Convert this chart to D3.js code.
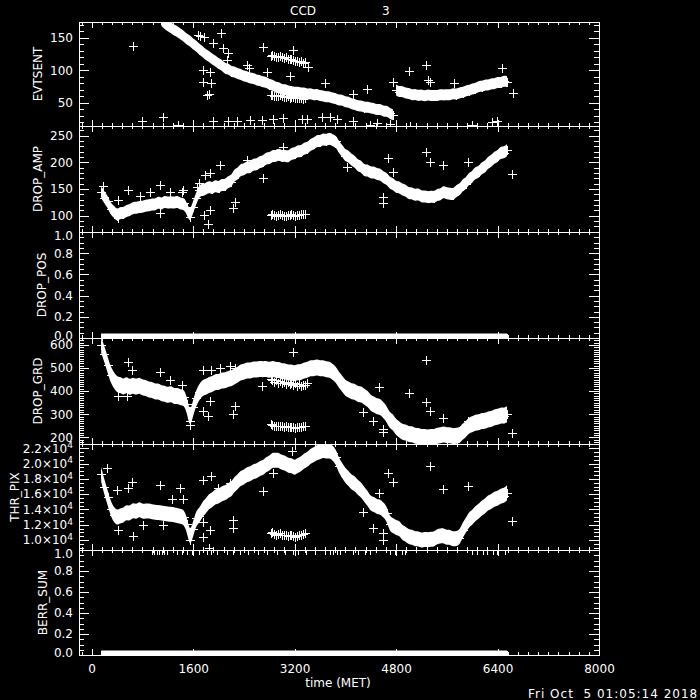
<!DOCTYPE html>
<meta charset="utf-8">
<head>
<title>CCD 3</title>
<style>
body { margin: 0; background: #000; }
svg { display: block; color: #fff; }
text { font-family: "DejaVu Sans", sans-serif; fill: #fff; }
.axis text { font-size: 12px; }
.axis line { stroke: #fff; shape-rendering: crispEdges; }
.frame { stroke: #fff; fill: none; shape-rendering: crispEdges; }
.pts { stroke: #fff; fill: none; shape-rendering: crispEdges; }
.band { fill: #fff; stroke: none; }
</style>
</head>
<body>
<script src="https://d3js.org/d3.v7.min.js"></script>
<script>

// sample times (MET) of the main track
var time = [
  150,200,250,300,350,400,450,500,550,600,
  650,700,750,800,850,900,950,1000,1050,1100,
  1150,1200,1250,1300,1350,1400,1450,1500,1550,1600,
  1650,1700,1750,1800,1850,1900,1950,2000,2050,2100,
  2150,2200,2250,2300,2350,2400,2450,2500,2550,2600,
  2650,2700,2750,2800,2850,2900,2950,3000,3050,3100,
  3150,3200,3250,3300,3350,3400,3450,3500,3550,3600,
  3650,3700,3750,3800,3850,3900,3950,4000,4050,4100,
  4150,4200,4250,4300,4350,4400,4450,4500,4550,4600,
  4650,4700,4750,4800,4850,4900,4950,5000,5050,5100,
  5150,5200,5250,5300,5350,5400,5450,5500,5550,5600,
  5650,5700,5750,5800,5850,5900,5950,6000,6050,6100,
  6150,6200,6250,6300,6350,6400,6450,6500,6550];

var evtsent = [
  null,null,null,null,null,null,null,null,null,null,
  null,null,null,null,null,null,null,null,null,177,
  172,169,166,162,160,156,153,148,146,140,
  138,132,129,124,122,117,115,110,109,103,
  103,98,98,95,94,91,91,88,88,85,
  85,82,82,78,78,74,74,70,71,68,
  68,66,67,65,66,63,65,62,64,61,
  61,59,60,57,57,54,55,51,52,48,
  48,45,46,43,44,42,42,39,41,37,
  38,34,32,70,67,68,65,65,62,64,
  61,63,60,63,61,62,61,63,62,63,
  62,65,63,66,66,69,69,72,72,76,
  75,78,77,80,79,82,81,84,83];

var dropAmp = [
  145,134,127,112,108,100,106,104,110,110,
  115,114,117,116,119,119,122,120,126,121,
  127,124,126,124,127,122,123,114,97,117,
  133,148,148,150,155,150,157,152,159,156,
  164,164,177,178,187,186,192,190,197,195,
  201,201,208,207,213,211,216,211,213,210,
  217,216,222,220,227,226,234,234,241,239,
  244,241,246,241,240,228,222,212,212,204,
  202,193,193,184,186,180,182,177,178,171,
  170,161,160,153,154,148,148,141,143,138,
  141,135,137,134,136,134,140,139,146,141,
  142,139,147,148,158,160,170,172,181,181,
  190,191,200,202,210,211,219,218,223];

var dropPos = [
  0,0,0,0,0,0,0,0,0,0, 0,0,0,0,0,0,0,0,0,0, 0,0,0,0,0,0,0,0,0,0,
  0,0,0,0,0,0,0,0,0,0, 0,0,0,0,0,0,0,0,0,0, 0,0,0,0,0,0,0,0,0,0,
  0,0,0,0,0,0,0,0,0,0, 0,0,0,0,0,0,0,0,0,0, 0,0,0,0,0,0,0,0,0,0,
  0,0,0,0,0,0,0,0,0,0, 0,0,0,0,0,0,0,0,0,0, 0,0,0,0,0,0,0,0,0,0,
  0,0,0,0,0,0,0,0,0];

var dropGrd = [
  600,560,515,470,448,428,428,416,431,414,
  428,416,428,414,415,404,408,396,401,388,
  391,381,390,376,381,371,375,345,270,330,
  372,398,415,417,428,429,441,437,448,445,
  455,453,465,469,483,482,491,487,495,492,
  497,494,498,490,499,491,493,484,487,478,
  483,475,483,480,491,491,501,497,505,497,
  501,493,495,482,473,447,433,412,408,397,
  398,385,388,375,368,347,343,332,333,317,
  303,272,268,242,235,222,223,212,215,205,
  208,199,203,198,203,200,208,207,215,207,
  211,203,208,207,225,235,253,255,265,263,
  273,269,279,277,288,287,296,292,300];

var thrPix = [
  18600,16900,15600,14100,13300,12900,13200,13200,13700,13400,
  14000,13600,14100,13700,13800,13800,13700,13600,13600,13500,
  13500,13400,13400,13300,13200,13100,13000,12100,10000,11500,
  12900,13200,14100,14400,15100,15200,15700,15700,16100,16100,
  16500,16600,17300,17600,18100,18200,18600,18600,19000,19000,
  19400,19400,19900,20000,20500,20400,20500,20100,20100,19700,
  19800,19400,19800,19900,20400,20500,21000,21100,21500,21500,
  21800,21600,21700,21400,20900,19700,19100,18400,18100,17500,
  17400,16800,16600,15900,15500,14700,14700,14300,14400,13900,
  13500,12100,11900,11600,11600,10900,10800,10400,10400,10100,
  10200,9900,10100,10000,10100,10100,10500,10500,10600,10300,
  10400,10100,10200,10300,11300,11900,12700,12900,13500,13700,
  14200,14400,14900,15000,15400,15400,15800,15800,16200];

var berrSum = [
  0,0,0,0,0,0,0,0,0,0, 0,0,0,0,0,0,0,0,0,0, 0,0,0,0,0,0,0,0,0,0,
  0,0,0,0,0,0,0,0,0,0, 0,0,0,0,0,0,0,0,0,0, 0,0,0,0,0,0,0,0,0,0,
  0,0,0,0,0,0,0,0,0,0, 0,0,0,0,0,0,0,0,0,0, 0,0,0,0,0,0,0,0,0,0,
  0,0,0,0,0,0,0,0,0,0, 0,0,0,0,0,0,0,0,0,0, 0,0,0,0,0,0,0,0,0,0,
  0,0,0,0,0,0,0,0,0];

// second, short track seen in every panel
var secTime  = [2820,2850,2880,2910,2940,2970,3000,3030,3060,3090,3120,3150,3180,3210,3240,3270,3300,3330,3360];
var evtSecHi = [123,124,122,121,121,122,121,119,120,118,118,117,116,114,115,113,114,112,113];
var evtSecLo = [62,63,61,60,60,62,61,59,59,60,58,59,59,57,57,58,58,56,57];
var ampSec   = [101,103,102,100,101,103,102,99,100,102,101,103,102,100,101,102,103,104,104];
var grdSec   = [256,253,251,250,249,251,248,246,247,244,245,246,244,241,243,244,246,247,249];
var grdSecHi = [452,446,441,448,437,444,436,441,431,439,429,437,426,433,423,430,421,428,425];
var thrSec   = [10900,11000,10800,10700,10800,10900,10700,10600,10700,10500,10600,10700,10500,10400,10500,10600,10700,10800,10900];

// scattered points [time, value]
var evtOutliers = [[651,138],[1680,155],[1708,153],[1774,151],[1913,142],[2040,157],[2071,134],
  [2150,127],[2134,116],[1756,101],[1866,97],[1756,83],[1882,81],[1819,63],[1850,64],[2702,136],
  [2449,109],[2481,104],[2765,98],[3128,92],[3175,132],[3412,105],[3680,81],[4342,72],[4121,64],
  [5005,99],[5273,109],[5305,86],[5336,83],[5715,80],[6472,104],[6646,65],[4753,83],
  [795,22],[1125,29],[1361,16],[1913,22],[2150,22],[2292,22],[2497,24],[2686,24],[2860,26],
  [3018,27],[3317,25],[3396,25],[3632,29],[3759,29],[3869,25],[4121,22],[4390,16],[4500,19],
  [4705,17],[5021,14],[6000,16],[6314,20],[6393,22]];

var ampOutliers = [[180,156],[572,148],[1077,157],[1235,144],[1440,148],[1692,161],[1787,176],
  [1866,180],[2024,195],[1771,101],[1835,84],[1866,110],[2228,114],[2260,126],[2449,204],
  [2702,171],[3018,229],[4027,191],[4674,208],[5273,220],[5336,201],[5541,195],[5935,201],
  [6629,178],[4595,124],[4595,135],[4753,182],[415,129],[762,136],[920,145],[1424,145],
  [1661,154],[1077,105],[415,96]];

var grdOutliers = [[574,528],[636,493],[1077,484],[1235,450],[1424,428],[1756,493],[1882,493],
  [2024,501],[2181,507],[2260,501],[2260,335],[2228,300],[1756,314],[1835,293],[1866,356],
  [1550,255],[415,378],[557,378],[2686,421],[3175,571],[3396,437],[5273,536],[5005,394],
  [5273,351],[5336,313],[5541,283],[5935,270],[6629,218],[4532,416],[4595,236],[4595,223],
  [4437,270],[4280,308]];

var thrOutliers = [[241,19470],[399,16580],[572,16840],[636,17630],[1077,17240],[1393,16840],
  [1266,15400],[1440,15400],[1756,17900],[1882,18400],[1992,16840],[2181,17500],[651,10570],
  [1756,10440],[1866,11300],[1756,12400],[2228,12630],[2228,11580],[2702,16360],[2860,18800],
  [3160,21620],[1850,8950],[415,11320],[809,11970],[1125,11970],[4674,18800],[4753,17540],
  [5336,19740],[5541,16710],[5935,17100],[6629,12500],[4595,10900],[4595,10000],[4437,11580],
  [4280,13720],[4532,16180]];

// times where BERR_SUM = 1
var berrHits = [951,983,1030,1062,1109,1140,1188,1345,1424,1503,1582,1692,1819,1882,1976,
  2134,2228,2339,2465,2623,2765,2922,3049,3175,3254,3380,3522,3680,3759,3806,3869,3916,
  4121,4200,4311,4390,4705,4784,4895,4942,6000,6077,6172,6235,6330,6393,6519];

// axis tick labels
var timeTicks = [0, 1600, 3200, 4800, 6400, 8000];
var evtTicks  = [50, 100, 150];
var ampTicks  = [100, 150, 200, 250];
var posTicks  = [0, 0.2, 0.4, 0.6, 0.8, 1.0];
var grdTicks  = [200, 300, 400, 500, 600];
var thrTicks  = [10000, 12000, 14000, 16000, 18000, 20000, 22000];
var berrTicks = [0, 0.2, 0.4, 0.6, 0.8, 1.0];


var width = 700, height = 700,
    left = 79, right = 599,
    edges = [22, 126, 232, 338, 444, 550, 655];

function pairs(ts, vs) { return ts.map(function(t, i) { return [t, vs[i]]; }); }

function plus(px, py) {
  var cx = Math.round(px), cy = Math.round(py);
  return "M" + (cx - 4) + "," + (cy + 0.5) + "h9M" + (cx + 0.5) + "," + (cy - 4) + "v9";
}

function minorTicks(domain, step) {
  var out = [];
  for (var v = Math.ceil(domain[0] / step) * step; v <= domain[1] + 1e-9; v += step) out.push(v);
  return out;
}

var panels = [
  {name: "EVTSENT", values: evtsent, domain: [14.6, 174.6], ticks: evtTicks, step: 10,
   fmt: d3.format("d"), lx: 42, thick: 5.5,
   extra: evtOutliers.concat(pairs(secTime, evtSecHi), pairs(secTime, evtSecLo))},
  {name: "DROP_AMP", values: dropAmp, domain: [69.4, 268.2], ticks: ampTicks, step: 10,
   fmt: d3.format("d"), lx: 42, thick: 6, extra: ampOutliers.concat(pairs(secTime, ampSec))},
  {name: "DROP_POS", values: dropPos, domain: [0, 1], ticks: posTicks, step: 0.05,
   fmt: d3.format(".1f"), lx: 46, thick: 4.5, extra: []},
  {name: "DROP_GRD", values: dropGrd, domain: [171, 630], ticks: grdTicks, step: 10,
   fmt: d3.format("d"), lx: 42, thick: 8,
   extra: grdOutliers.concat(pairs(secTime, grdSec), pairs(secTime, grdSecHi))},
  {name: "THR_PIX", values: thrPix, domain: [8690, 22563], ticks: thrTicks, step: 500,
   fmt: null, lx: 19, thick: 7.5, extra: thrOutliers.concat(pairs(secTime, thrSec))},
  {name: "BERR_SUM", values: berrSum, domain: [0, 1], ticks: berrTicks, step: 0.05,
   fmt: d3.format(".1f"), lx: 47, thick: 4.5, extra: berrHits.map(function(t) { return [t, 1]; })}
];

var x = d3.scaleLinear().domain([-200, 8000]).range([left, right]);
var xMinor = minorTicks([-200, 8000], 160);

var svg = d3.select("body").append("svg")
    .attr("width", width)
    .attr("height", height);

svg.append("rect").attr("width", width).attr("height", height).attr("fill", "#000");

panels.forEach(function(p, i) {
  var top = edges[i], bottom = edges[i + 1], last = i === panels.length - 1;
  var y = d3.scaleLinear().domain(p.domain).range([bottom, top]);
  var g = svg.append("g");

  svg.append("clipPath").attr("id", "clip" + i)
    .append("rect")
      .attr("x", left).attr("y", top)
      .attr("width", right - left + 1).attr("height", bottom - top + 1);

  var main = pairs(time, p.values);

  // the main track is sampled so densely that its symbols merge into a solid band
  var runs = [], run = [];
  main.forEach(function(d) {
    if (d[1] == null) { if (run.length) runs.push(run); run = []; return; }
    if (run.length && Math.abs(y(d[1]) - y(run[run.length - 1][1])) > 20) { runs.push(run); run = []; }
    run.push(d);
  });
  if (run.length) runs.push(run);

  var band = d3.area().curve(d3.curveBasis)
      .x(function(d) { return x(d[0]); })
      .y0(function(d) { return y(d[1]) + p.thick; })
      .y1(function(d) { return y(d[1]) - p.thick; });

  g.append("g").attr("clip-path", "url(#clip" + i + ")")
    .selectAll("path").data(runs).join("path")
      .attr("class", "band")
      .attr("d", band);

  var pts = main.concat(p.extra).filter(function(d) { return d[1] != null; });

  g.append("path")
      .attr("class", "pts")
      .attr("clip-path", "url(#clip" + i + ")")
      .attr("d", pts.map(function(d) { return plus(x(d[0]), y(d[1])); }).join(""));

  // left axis
  var la = g.append("g").attr("class", "axis").attr("transform", "translate(" + left + ",0)");
  la.append("g").call(d3.axisLeft(y).tickValues(minorTicks(p.domain, p.step))
      .tickSizeInner(-5).tickSizeOuter(0).tickFormat(""));
  var lm = la.append("g").call(d3.axisLeft(y).tickValues(p.ticks)
      .tickSizeInner(-10).tickSizeOuter(0).tickPadding(6)
      .tickFormat(p.fmt || function(d) { return d; }));
  if (!p.fmt) {
    lm.selectAll(".tick text").each(function(d) {
      var t = d3.select(this).text("");
      t.append("tspan").text((d / 1e4).toFixed(1) + "\u00d710");
      t.append("tspan").attr("dy", "-0.5em").style("font-size", "9px").text("4");
    });
  }
  // labels at the very ends of an axis sit slightly inside it
  lm.selectAll(".tick text").attr("y", function(d) {
    return d === p.domain[1] ? 4 : d === p.domain[0] ? -2 : 0;
  });

  // right axis
  var ra = g.append("g").attr("class", "axis").attr("transform", "translate(" + right + ",0)");
  ra.append("g").call(d3.axisRight(y).tickValues(minorTicks(p.domain, p.step))
      .tickSizeInner(-5).tickSizeOuter(0).tickFormat(""));
  ra.append("g").call(d3.axisRight(y).tickValues(p.ticks)
      .tickSizeInner(-10).tickSizeOuter(0).tickFormat(""));

  // top and bottom time axes
  var ta = g.append("g").attr("class", "axis").attr("transform", "translate(0," + top + ")");
  ta.append("g").call(d3.axisTop(x).tickValues(xMinor).tickSizeInner(-3).tickSizeOuter(0).tickFormat(""));
  ta.append("g").call(d3.axisTop(x).tickValues(timeTicks).tickSizeInner(-6).tickSizeOuter(0).tickFormat(""));

  var ba = g.append("g").attr("class", "axis").attr("transform", "translate(0," + bottom + ")");
  ba.append("g").call(d3.axisBottom(x).tickValues(xMinor).tickSizeInner(-3).tickSizeOuter(0).tickFormat(""));
  ba.append("g").call(d3.axisBottom(x).tickValues(timeTicks).tickSizeInner(-6).tickSizeOuter(0)
      .tickPadding(9).tickFormat(last ? d3.format("d") : ""));

  g.append("rect")
      .attr("class", "frame")
      .attr("x", left).attr("y", top)
      .attr("width", right - left).attr("height", bottom - top);

  g.append("text")
      .attr("transform", "translate(" + p.lx + "," + (top + bottom) / 2 + ") rotate(-90)")
      .attr("text-anchor", "middle")
      .style("font-size", "12px")
      .text(p.name);
});

svg.selectAll(".domain").remove();

svg.append("text").attr("x", 290).attr("y", 15).style("font-size", "12px").text("CCD");
svg.append("text").attr("x", 382).attr("y", 15).style("font-size", "12px").text("3");

svg.append("text")
    .attr("x", 338).attr("y", 687)
    .attr("text-anchor", "middle")
    .style("font-size", "12px")
    .text("time (MET)");

svg.append("text")
    .attr("x", 528).attr("y", 698)
    .style("font-size", "12px")
    .style("letter-spacing", "1px")
    .style("white-space", "pre")
    .text("Fri Oct  5 01:05:14 2018");

</script>
</body>
